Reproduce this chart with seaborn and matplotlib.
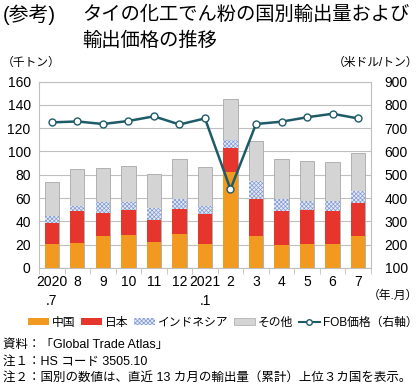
import matplotlib
matplotlib.use("Agg")
import matplotlib.pyplot as plt
import matplotlib.patches as mpatches
import matplotlib.lines as mlines
import seaborn as sns
import numpy as np
import pandas as pd

# data (thousand tons / USD per ton)
months = ["2020\n.7", "8", "9", "10", "11", "12", "2021\n.1", "2", "3", "4", "5", "6", "7"]
china = [20.9, 21.8, 27.2, 28.7, 22.7, 29.0, 20.4, 82.6, 27.2, 20.1, 20.9, 20.9, 27.2]
japan = [17.8, 27.2, 20.4, 20.9, 18.3, 22.0, 26.1, 20.1, 31.9, 28.4, 29.0, 28.1, 28.7]
indonesia = [6.3, 4.6, 8.9, 6.9, 10.9, 8.6, 7.1, 6.8, 15.5, 10.3, 7.7, 8.6, 10.0]
other = [28.4, 31.0, 29.2, 31.0, 29.2, 33.6, 33.0, 35.3, 34.4, 35.0, 34.4, 33.0, 32.7]
fob = [725, 729, 718, 731, 751, 716, 742, 438, 718, 728, 747, 762, 742]

c_china = "#F29A1F"
c_japan = "#E5352C"
c_indo_bg = "#E4EAF6"
c_indo = "#8199D0"
c_other = "#D4D4D4"
c_line = "#1E5B68"
grid_c = "#BFBFBF"

plt.rcParams["font.family"] = ["Liberation Sans", "Noto Sans CJK JP"]
plt.rcParams["hatch.linewidth"] = 0.5

df = pd.DataFrame({"month": months, "china": china, "japan": japan,
                   "indonesia": indonesia, "other": other, "fob": fob})
df["l1"] = df["china"]
df["l2"] = df["l1"] + df["japan"]
df["l3"] = df["l2"] + df["indonesia"]
df["l4"] = df["l3"] + df["other"]

fig = plt.figure(figsize=(4.2, 3.85), dpi=100)
ax = fig.add_axes([0.093, 0.304, 0.790, 0.484])

w = 0.56
sns.barplot(data=df, x="month", y="l4", color=c_other, width=w, ax=ax,
            saturation=1, edgecolor="#A8A8A8", linewidth=0.6)
sns.barplot(data=df, x="month", y="l3", color=c_indo_bg, width=w, ax=ax,
            saturation=1, edgecolor=c_indo, linewidth=0.0, hatch="xxxxxxxx")
sns.barplot(data=df, x="month", y="l2", color=c_japan, width=w, ax=ax,
            saturation=1, linewidth=0)
sns.barplot(data=df, x="month", y="l1", color=c_china, width=w, ax=ax,
            saturation=1, linewidth=0)

ax.set_ylim(0, 160)
ax.set_yticks(range(0, 161, 20))
ax.set_xlim(-0.5, len(months) - 0.5)
ax.set_axisbelow(True)
ax.yaxis.grid(True, color=grid_c, linewidth=0.8)
ax.set_xlabel("")
ax.set_ylabel("")
ax.tick_params(axis="y", length=0, labelsize=10, pad=6)
ax.tick_params(axis="x", which="major", length=0, labelsize=10, pad=5)
ax.set_xticks(np.arange(len(months)))
ax.set_xticklabels(months, linespacing=1.5)
ax.set_xticks(np.arange(len(months) + 1) - 0.5, minor=True)
ax.tick_params(axis="x", which="minor", length=4, color=grid_c)
for s in ax.spines.values():
    s.set_color(grid_c)
    s.set_linewidth(0.8)

ax2 = ax.twinx()
sns.pointplot(data=df, x="month", y="fob", ax=ax2, color=c_line,
              markers="o", linestyles="-", markersize=5,
              markerfacecolor="white", markeredgecolor=c_line,
              markeredgewidth=1.0, linewidth=1.8)
ax2.set_ylim(100, 900)
ax2.set_yticks(range(100, 901, 100))
ax2.set_xlim(-0.5, len(months) - 0.5)
ax2.set_ylabel("")
ax2.set_xlabel("")
ax2.tick_params(axis="y", length=0, labelsize=10, pad=10)
for s in ax2.spines.values():
    s.set_visible(False)

# title and axis units
fig.text(0.006, 0.962, "(参考)", fontsize=14.3, va="center", ha="left")
fig.text(0.195, 0.962, "タイの化工でん粉の国別輸出量および", fontsize=13.9,
         va="center", ha="left")
fig.text(0.195, 0.893, "輸出価格の推移", fontsize=13.9, va="center", ha="left")
fig.text(0.005, 0.838, "（千トン）", fontsize=8.5, va="center", ha="left")
fig.text(0.995, 0.838, "（米ドル/トン）", fontsize=8.5, va="center", ha="right")
fig.text(0.995, 0.232, "（年.月）", fontsize=8.5, va="center", ha="right")

handles = [
    mpatches.Patch(facecolor=c_china, edgecolor="none", label="中国"),
    mpatches.Patch(facecolor=c_japan, edgecolor="none", label="日本"),
    mpatches.Patch(facecolor=c_indo_bg, edgecolor=c_indo, hatch="xxxxxxxx",
                   linewidth=0, label="インドネシア"),
    mpatches.Patch(facecolor=c_other, edgecolor="#A8A8A8", linewidth=0.5,
                   label="その他"),
    mlines.Line2D([], [], color=c_line, marker="o", markerfacecolor="white",
                  markersize=4, linewidth=1.5, label="FOB価格（右軸）"),
]
fig.legend(handles=handles, loc="center", bbox_to_anchor=(0.53, 0.162),
           ncol=5, frameon=False, fontsize=8.5, handlelength=1.8,
           handleheight=0.55, handletextpad=0.25, columnspacing=0.45)

notes = ["資料：「Global Trade Atlas」",
         "注１：HS コード 3505.10",
         "注２：国別の数値は、直近 13 カ月の輸出量（累計）上位３カ国を表示。"]
for i, t in enumerate(notes):
    fig.text(0.008, 0.103 - i * 0.043, t, fontsize=9.0, va="center", ha="left")

fig.savefig("out.png", dpi=100)
